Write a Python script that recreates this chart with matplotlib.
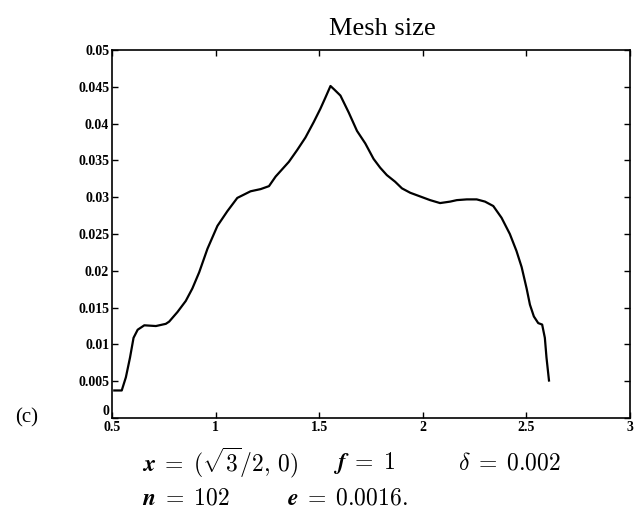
import numpy as np
import matplotlib.pyplot as plt

# --- dades llegides del gràfic ---
x_vals = [0.511, 0.547, 0.567, 0.587, 0.604, 0.624, 0.656, 0.712, 0.760, 0.776,
          0.816, 0.856, 0.888, 0.921, 0.961, 1.009, 1.057, 1.105, 1.169, 1.218,
          1.258, 1.290, 1.354, 1.394, 1.434, 1.474, 1.506, 1.530, 1.555, 1.574,
          1.603, 1.643, 1.683, 1.723, 1.763, 1.795, 1.827, 1.867, 1.900, 1.940,
          1.988, 2.036, 2.084, 2.133, 2.165, 2.213, 2.261, 2.301, 2.341, 2.381,
          2.421, 2.453, 2.478, 2.502, 2.518, 2.537, 2.558, 2.577, 2.590, 2.598,
          2.610]
mesh = [0.00375, 0.00375, 0.00554, 0.00822, 0.0109, 0.0120, 0.0126, 0.0125, 0.0128, 0.0131,
        0.0144, 0.0159, 0.0176, 0.0198, 0.0230, 0.0261, 0.0281, 0.0299, 0.0308, 0.0311,
        0.0315, 0.0328, 0.0348, 0.0364, 0.0381, 0.0402, 0.0420, 0.0435, 0.0451, 0.0446,
        0.0438, 0.0415, 0.0390, 0.0373, 0.0352, 0.0340, 0.0330, 0.0321, 0.0312, 0.0306,
        0.0301, 0.0296, 0.0292, 0.0294, 0.0296, 0.0297, 0.0297, 0.0294, 0.0288, 0.0272,
        0.0250, 0.0227, 0.0205, 0.0176, 0.0154, 0.0138, 0.0129, 0.0127, 0.0109, 0.0082,
        0.0051]

xticks = [0.5, 1, 1.5, 2, 2.5, 3]
xtick_labels = ['0.5', '1', '1.5', '2', '2.5', '3']
yticks = [0, 0.005, 0.01, 0.015, 0.02, 0.025, 0.03, 0.035, 0.04, 0.045, 0.05]
ytick_labels = ['0', '0.005', '0.01', '0.015', '0.02', '0.025', '0.03', '0.035',
                '0.04', '0.045', '0.05']

plt.rcParams['mathtext.fontset'] = 'cm'
serif = 'Liberation Serif'

fig = plt.figure(figsize=(6.4, 5.2), dpi=100)
ax = fig.add_axes([0.175, 0.196, 0.809, 0.708])

ax.plot(x_vals, mesh, color='black', linewidth=1.6)

ax.set_xlim(0.5, 3)
ax.set_ylim(0, 0.05)
ax.set_xticks(xticks)
ax.set_xticklabels(xtick_labels, fontfamily=serif, fontweight='bold', fontsize=10)
ax.set_yticks(yticks)
ax.set_yticklabels(ytick_labels, fontfamily=serif, fontweight='bold', fontsize=10)
ax.tick_params(direction='in', length=4, width=1, top=True, right=True, pad=2)
# el "0" de l'eix y queda just damunt del "0.5"
ax.get_yticklabels()[0].set_verticalalignment('bottom')
for s in ax.spines.values():
    s.set_linewidth(1.2)

# títol una mica desplaçat a la dreta com a l'original
fig.text(0.597, 0.932, 'Mesh size', fontfamily=serif, fontsize=19, ha='center',
         va='baseline')

# --- textos de sota ---
fs = 17
fig.text(0.024, 0.196, '(c)', fontfamily=serif, fontsize=15, va='center')
fig.text(0.222, 0.110, r'$\boldsymbol{x}\;=\;(\sqrt{3}/2,\,0)$', fontsize=fs, va='center')
fig.text(0.520, 0.110, r'$\boldsymbol{f}\;=\;1$', fontsize=fs, va='center')
fig.text(0.716, 0.110, r'$\delta\;=\;0.002$', fontsize=fs, va='center')
fig.text(0.222, 0.044, r'$\boldsymbol{n}\;=\;102$', fontsize=fs, va='center')
fig.text(0.448, 0.044, r'$\boldsymbol{e}\;=\;0.0016.$', fontsize=fs, va='center')

fig.savefig('out.png', dpi=100)
